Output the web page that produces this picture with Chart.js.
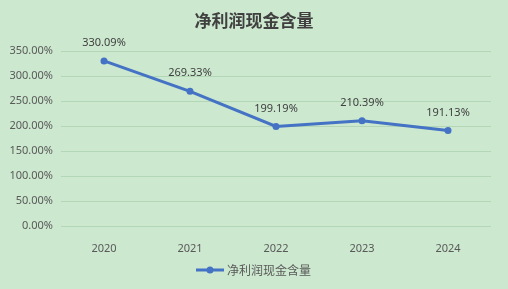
<!DOCTYPE html>
<html>
<head>
<meta charset="utf-8">
<script src="https://cdn.jsdelivr.net/npm/chart.js@4"></script>
<style>
  html, body { margin: 0; padding: 0; background: #cce8cf; }
  #wrap { width: 508px; height: 289px; }
</style>
</head>
<body>
<div id="wrap"><canvas id="chart" width="508" height="289"></canvas></div>
<script>
// chart data
var years = ['2020', '2021', '2022', '2023', '2024'];
var cashRatio = [330.09, 269.33, 199.19, 210.39, 191.13];
var seriesName = '净利润现金含量';
var chartTitle = '净利润现金含量';

var lineColor = '#4472c4';
var textColor = '#595959';

// title, value labels and legend are drawn here
var decorPlugin = {
	id: 'decor',
	afterDatasetsDraw: function(chart) {
		var ctx = chart.ctx;
		ctx.save();

		// value labels above points
		var meta = chart.getDatasetMeta(0);
		ctx.font = '11px "Noto Sans", "DejaVu Sans", sans-serif';
		ctx.fillStyle = '#404040';
		ctx.textAlign = 'center';
		ctx.textBaseline = 'middle';
		meta.data.forEach(function(pt, i) {
			ctx.fillText(cashRatio[i].toFixed(2) + '%', pt.x, pt.y - 18);
		});

		// title
		ctx.font = 'bold 17px "Noto Sans CJK SC", sans-serif';
		ctx.fillStyle = '#404040';
		ctx.fillText(chartTitle, 254, 21);

		// legend
		var ly = 270;
		ctx.strokeStyle = lineColor;
		ctx.lineWidth = 3;
		ctx.beginPath();
		ctx.moveTo(196, ly);
		ctx.lineTo(224, ly);
		ctx.stroke();
		ctx.fillStyle = lineColor;
		ctx.beginPath();
		ctx.arc(210, ly, 3.5, 0, Math.PI * 2);
		ctx.fill();
		ctx.font = '12px "Noto Sans CJK SC", sans-serif';
		ctx.fillStyle = textColor;
		ctx.textAlign = 'left';
		ctx.fillText(seriesName, 227, ly);

		ctx.restore();
	}
};

var ctx = document.getElementById('chart').getContext('2d');
var cashChart = new Chart(ctx, {
	type: 'line',
	data: {
		labels: years,
		datasets: [{
			label: seriesName,
			data: cashRatio,
			borderColor: lineColor,
			backgroundColor: lineColor,
			borderWidth: 3,
			pointRadius: 3.5,
			pointBackgroundColor: lineColor,
			pointBorderWidth: 0,
			tension: 0
		}]
	},
	options: {
		responsive: false,
		animation: false,
		layout: {
			padding: { top: 51, left: 0, right: 17, bottom: 33 }
		},
		plugins: {
			legend: { display: false },
			title: { display: false },
			tooltip: { enabled: false }
		},
		scales: {
			x: {
				offset: true,
				grid: { display: false, offset: true },
				border: { display: false },
				ticks: {
					color: textColor,
					font: { size: 11, family: '"Noto Sans", "DejaVu Sans", sans-serif' },
					padding: 8
				},
				afterFit: function(scale) { scale.height = 30; }
			},
			y: {
				min: 0,
				max: 350,
				grid: { color: '#b3d6b7', drawTicks: false },
				border: { display: false },
				ticks: {
					stepSize: 50,
					color: textColor,
					padding: 8,
					font: { size: 11, family: '"Noto Sans", "DejaVu Sans", sans-serif' },
					callback: function(v) { return v.toFixed(2) + '%'; }
				},
				afterFit: function(scale) { scale.width = 61; }
			}
		}
	},
	plugins: [decorPlugin]
});
</script>
</body>
</html>
